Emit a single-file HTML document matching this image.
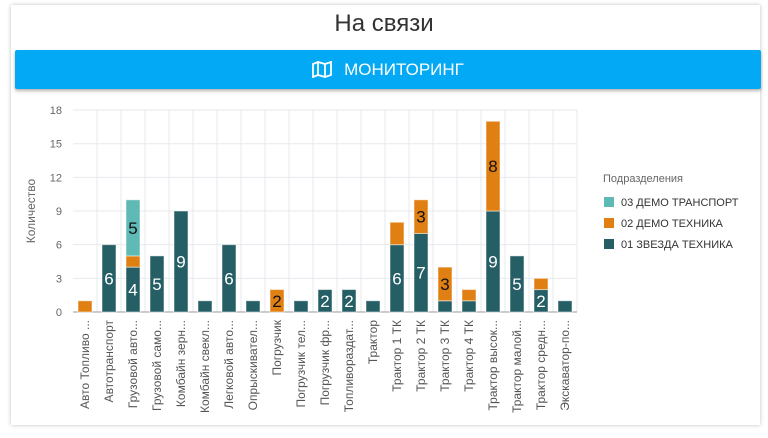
<!DOCTYPE html>
<html><head><meta charset="utf-8"><style>
html,body{margin:0;padding:0;background:#fff;width:768px;height:438px;overflow:hidden;font-family:"Liberation Sans","DejaVu Sans",sans-serif;}
.card{position:absolute;left:11px;top:5px;width:749px;height:420px;background:#fff;box-shadow:0 0 4px rgba(0,0,0,.25);}
.title{position:absolute;left:0;top:10px;width:768px;text-align:center;font-size:24px;color:#333;font-weight:300;}
.btn{position:absolute;left:15px;top:50px;width:746px;height:39px;background:#03a9f4;color:#fff;font-size:17px;text-align:center;line-height:39px;box-shadow:0 2px 3px rgba(0,0,0,.3);border-radius:2px;}
svg{position:absolute;left:0;top:0;}
</style></head><body>
<div class="card"></div>
<div class="title">На связи</div>
<div class="btn"><svg style="position:relative;display:inline-block;vertical-align:-3px;margin-right:12px" width="20" height="17" viewBox="0 0 20 17"><path d="M1 3 L6 1 L13 3 L19 1 L19 14 L13 16 L6 14 L1 16 Z M6 1 L6 14 M13 3 L13 16" fill="none" stroke="#fff" stroke-width="1.8"/></svg>МОНИТОРИНГ</div>
<svg width="768" height="438" id="c"></svg>
<script>
const data=[
["Авто Топливо ...",0,1,0],["Автотранспорт",6,0,0],["Грузовой авто...",4,1,5],["Грузовой само...",5,0,0],
["Комбайн зерн...",9,0,0],["Комбайн свекл...",1,0,0],["Легковой авто...",6,0,0],["Опрыскивател...",1,0,0],
["Погрузчик",0,2,0],["Погрузчик тел...",1,0,0],["Погрузчик фр...",2,0,0],["Топливораздат...",2,0,0],
["Трактор",1,0,0],["Трактор 1 ТК",6,2,0],["Трактор 2 ТК",7,3,0],["Трактор 3 ТК",1,3,0],
["Трактор 4 ТК",1,1,0],["Трактор высок...",9,8,0],["Трактор малой...",5,0,0],["Трактор средн...",2,1,0],["Экскаватор-по...",1,0,0]];
const y0=312,k=11.22,x0=73,w=24;let s='';
for(let i=0;i<=6;i++){const y=y0-i*3*k;s+=`<line x1="${x0}" x2="577" y1="${y}" y2="${y}" stroke="#e6e9ee"/><text x="62" y="${y+4}" font-size="11" fill="#666" text-anchor="end">${i*3}</text>`;}
for(let i=1;i<=21;i++)s+=`<line x1="${x0+i*w}" x2="${x0+i*w}" y1="110" y2="${y0}" stroke="#e6e9ee"/>`;
s+=`<line x1="${x0}" x2="577" y1="${y0}" y2="${y0}" stroke="#999"/>`;
const cols=["#255e65","#e07f12","#5fb9b5"],tc=["#fff","#111","#111"];
data.forEach((d,i)=>{let base=0;const cx=x0+i*w+w/2;
for(let j=0;j<3;j++){const v=d[j+1];if(!v)continue;const yt=y0-(base+v)*k,yb=y0-base*k;
s+=`<rect x="${cx-7}" y="${yt}" width="14" height="${yb-yt}" fill="${cols[j]}" stroke="#fff" stroke-opacity=".5" stroke-width="1"/>`;
if(v>=2&&!(i==13&&j==1))s+=`<text x="${cx}" y="${(yt+yb)/2+6}" font-size="17" fill="${tc[j]}" text-anchor="middle">${v}</text>`;base+=v;}
s+=`<text transform="translate(${cx+4},320) rotate(-90)" font-size="12" fill="#555" text-anchor="end">${d[0]}</text>`;});
s+=`<text transform="translate(35,211) rotate(-90)" font-size="12" fill="#666" text-anchor="middle">Количество</text>`;
s+=`<text x="603" y="182" font-size="11" fill="#666">Подразделения</text>`;
const lg=[["03 ДЕМО ТРАНСПОРТ",2],["02 ДЕМО ТЕХНИКА",1],["01 ЗВЕЗДА ТЕХНИКА",0]];
lg.forEach((l,i)=>{const y=202+i*21;s+=`<rect x="604" y="${y-5}" width="10" height="10" fill="${cols[l[1]]}"/><text x="621" y="${y+4}" font-size="11" fill="#333">${l[0]}</text>`;});
document.getElementById('c').innerHTML=s;
</script>
</body></html>
